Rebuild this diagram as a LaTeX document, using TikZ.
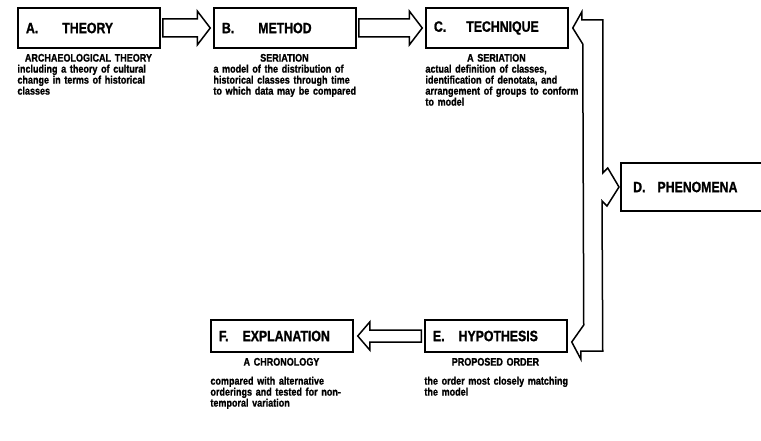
\documentclass[tikz,border=0pt]{standalone}
\usepackage{fontspec}
\setmainfont{Liberation Sans}[FakeStretch=0.82, BoldFeatures={FakeBold=1.2}]
\usetikzlibrary{positioning,calc}
\newcommand{\labfont}{\fontsize{15}{18}\selectfont\bfseries}
\newcommand{\descfont}{\fontsize{11}{11}\selectfont\bfseries}
\tikzset{ % boxes, notes and fat arrows
    box/.style={rectangle, draw, line width=1.5pt, minimum width=142pt, minimum height=40pt, text width=126pt, inner xsep=8pt, align=left, font=\labfont},
    lowbox/.style={box, minimum height=32pt},
    desc/.style={inner sep=0pt, text width=175pt, align=left, font=\descfont},
    frame/.style={draw, line width=1.5pt},
    fat/.style={draw, line width=1.5pt, fill=white, line join=miter}
}
\begin{document}
\begin{tikzpicture}[x=1pt,y=1pt]
	\useasboundingbox (0,0) rectangle (761,440);
	%Boxes
	\node[box]    (A) at (89,412)  {A.\hspace{24pt}THEORY};
	\node[box]    (B) at (285,412) {B.\hspace{24pt}METHOD};
	\node[box]    (C) at (497,412) {C.\hspace{20pt}TECHNIQUE};
	\node[anchor=west, font=\labfont, inner xsep=12pt, minimum height=48pt] (D) at (621,253) {D.\hspace{12pt}PHENOMENA};
	\node[lowbox] (E) at (496,104) {E.\hspace{14pt}HYPOTHESIS};
	\node[lowbox] (F) at (282,104) {F.\hspace{14pt}EXPLANATION};
	\draw[frame] ($(D.north west)+(150,0)$) -- (D.north west) -- (D.south west) -- ++(150,0);
	%Notes
	\node[desc, below right=5pt and 0pt of A.south west] (a) {\makebox[142pt]{ARCHAEOLOGICAL THEORY}\\ including a theory of cultural\\ change in terms of historical\\ classes};
	\node[desc, below right=5pt and 0pt of B.south west] (b) {\makebox[142pt]{SERIATION}\\ a model of the distribution of\\ historical classes through time\\ to which data may be compared};
	\node[desc, below right=5pt and 0pt of C.south west] (c) {\makebox[142pt]{A SERIATION}\\ actual definition of classes,\\ identification of denotata, and\\ arrangement of groups to conform\\ to model};
	\node[desc, below right=5pt and 0pt of E.south west] (e) {\makebox[142pt]{PROPOSED ORDER}\\[8pt] the order most closely matching\\ the model};
	\node[desc, below right=5pt and 0pt of F.south west] (f) {\makebox[142pt]{A CHRONOLOGY}\\[8pt] compared with alternative\\ orderings and tested for non-\\ temporal variation};
	%Fat arrows
	\draw[fat] ($(A.east)+(2,9)$) -- ($(B.west)+(-16,9)$) -- ++(0,8) -- ($(B.west)+(-3,0)$) -- ++(-13,-17) -- ++(0,8) -- ($(A.east)+(2,-9)$) -- cycle;
	\draw[fat] ($(B.east)+(2,9)$) -- ($(C.west)+(-16,9)$) -- ++(0,8) -- ($(C.west)+(-3,0)$) -- ++(-13,-17) -- ++(0,8) -- ($(B.east)+(2,-9)$) -- cycle;
	\draw[fat] ($(E.west)+(-3,6)$) -- ($(F.east)+(16,6)$) -- ++(0,8) -- ($(F.east)+(4,0)$) -- ++(12,-14) -- ++(0,8) -- ($(E.west)+(-3,-6)$) -- cycle;
	%Bracket to D
	\coordinate (tipC) at ($(C.east)+(4,0)$);
	\coordinate (tipD) at ($(D.west)+(-2,0)$);
	\coordinate (tipE) at ($(E.east)+(4,-6)$);
	\coordinate (dUp) at ($(tipD)+(0,14)$);
	\coordinate (eLow) at ($(tipE)+(0,-9)$);
	\draw[fat] (tipC) -- ++(9,16) -- ++(0,-8) -- ++(21,0) coordinate (topR)
		-- (topR |- dUp) -- ++(5,5) -- (tipD) -- ++(-12,-19) -- ++(-5,5)
		-- (topR |- eLow) -- ++(-22,0) -- ++(0,-8) -- (tipE) -- ++(12,17)
		-- ($(tipC)+(10,-16)$) -- cycle;
\end{tikzpicture}
\end{document}
